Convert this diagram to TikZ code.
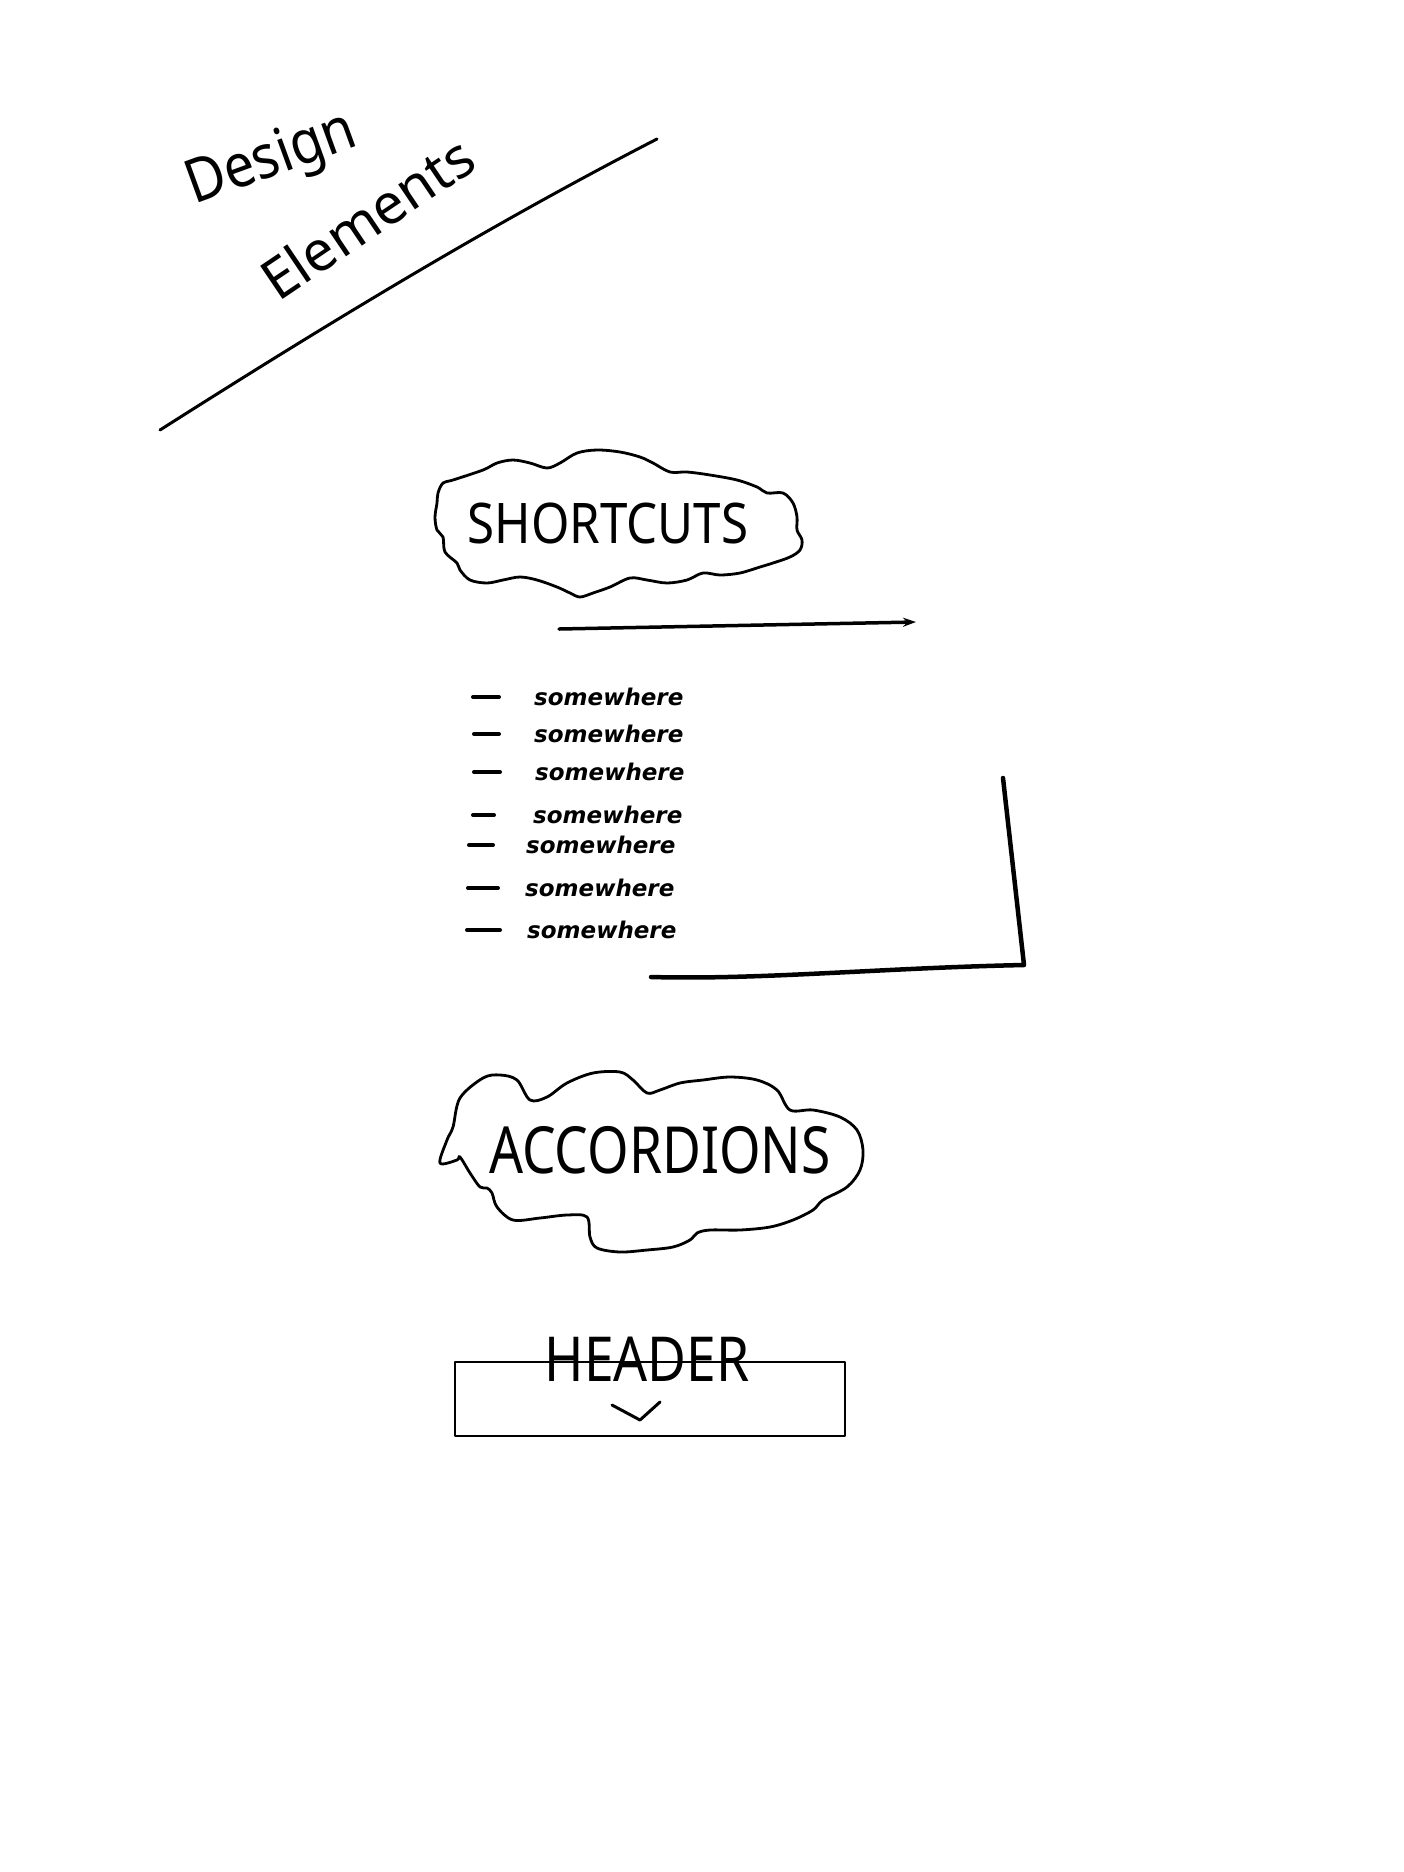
\documentclass[tikz,border=0pt]{standalone}
\usepackage{fontspec}
\setmainfont{Noto Sans}
\newfontfamily\itemfont{DejaVu Sans}
\usetikzlibrary{arrows.meta}
\begin{document}
\begin{tikzpicture}[x=1pt,y=-1pt,
  pen/.style={line width=2.8pt, line cap=round, line join=round},
  thickpen/.style={line width=4.5pt, line cap=round, line join=round},
  bullet/.style={line width=4pt, line cap=round},
  handtitle/.style={inner sep=0pt, font=\fontsize{54}{64}\selectfont},
  cloudlabel/.style={inner sep=0pt},
  itemtext/.style={inner sep=0pt, anchor=west, font=\itemfont\bfseries\itshape\fontsize{23}{28}\selectfont}]
\useasboundingbox[fill=white] (0,0) rectangle (1404,1872);

% Title
\node[handtitle, rotate=20, anchor=base west, yscale=1.12] (design) at (194,205) {Design};
\node[handtitle, rotate=34, anchor=base west, font=\fontsize{56}{66}\selectfont] (elements) at (278,303) {Elements};
\coordinate (ul1) at (160,430);
\coordinate (ul2) at (657,139);
\draw[pen, line width=3pt] (ul1) .. controls (330,322) and (490,225) .. (ul2);

% Shortcuts cloud
\draw[pen] plot[smooth cycle, tension=0.55] coordinates {
 (443,483) (453,480) (483,470) (497,463) (513,460) (530,463) (547,468)
 (560,463) (577,453) (597,450) (620,452) (640,457) (653,463) (670,472)
 (687,472) (710,475) (737,480) (757,487) (767,493) (783,493) (793,503)
 (797,517) (797,530) (802,540) (800,550) (790,557) (773,563) (760,567)
 (740,573) (720,575) (703,573) (687,580) (667,583) (647,580) (630,578)
 (610,587) (593,593) (580,597) (570,593) (557,587) (537,580) (520,577)
 (503,580) (487,583) (470,580) (460,570) (457,563) (445,552) (443,537)
 (437,530) (435,517) (437,503) (438,493)};
\node[cloudlabel, xscale=0.88, font=\fontsize{56}{66}\selectfont] (shortcuts) at (608,523) {SHORTCUTS};

% arrow under the cloud
\coordinate (ar1) at (559,629);
\coordinate (ar2) at (916,622);
\draw[pen, line width=3.5pt, -{Stealth[length=13pt,width=9pt]}] (ar1) -- (ar2);

% list
\foreach \i/\y/\xa/\xb/\xt in {1/697/473/499/534, 2/734/474/499/534, 3/772/474/500/535,
  4/815/473/494/533, 5/845/469/493/526, 6/888/468/498/525, 7/930/467/500/527} {
  \draw[bullet] (\xa,\y) -- (\xb,\y);
  \node[itemtext] (item\i) at (\xt,\y) {somewhere};
}

% corner lines
\coordinate (c1) at (651,977);
\coordinate (c2) at (1024,965);
\coordinate (c3) at (1003,778);
\draw[thickpen] (c1) .. controls (760,980) and (880,968) .. (c2) -- (c3);

% Accordions cloud
\draw[pen] plot[smooth cycle, tension=0.55] coordinates {
 (460,1098) (483,1078) (500,1075) (517,1080) (530,1100) (547,1097)
 (567,1083) (593,1073) (620,1072) (633,1080) (647,1093) (660,1090)
 (680,1083) (703,1080) (730,1077) (757,1080) (777,1090) (790,1110)
 (813,1110) (840,1117) (857,1130) (863,1150) (860,1170) (847,1187)
 (823,1200) (813,1210) (793,1220) (770,1227) (740,1230) (710,1230)
 (697,1233) (690,1240) (673,1247) (647,1250) (620,1252) (597,1248)
 (590,1237) (587,1217) (567,1215) (540,1218) (513,1220) (497,1207)
 (492,1193) (487,1188) (480,1187) (470,1173) (460,1157) (457,1160)
 (440,1163) (447,1140) (453,1127)};
\node[cloudlabel, xscale=0.82, font=\fontsize{65}{78}\selectfont] (accordions) at (660,1150) {ACCORDIONS};

% Header box
\node[cloudlabel, xscale=0.86, font=\fontsize{62}{74}\selectfont] (header) at (647,1359) {HEADER};
\draw[pen, line width=2.6pt] (455,1362) rectangle (845,1436);
\coordinate (ch1) at (612,1405);
\coordinate (ch2) at (640,1420);
\coordinate (ch3) at (660,1402);
\draw[pen, line width=3pt] (ch1) -- (ch2) -- (ch3);
\end{tikzpicture}
\end{document}
